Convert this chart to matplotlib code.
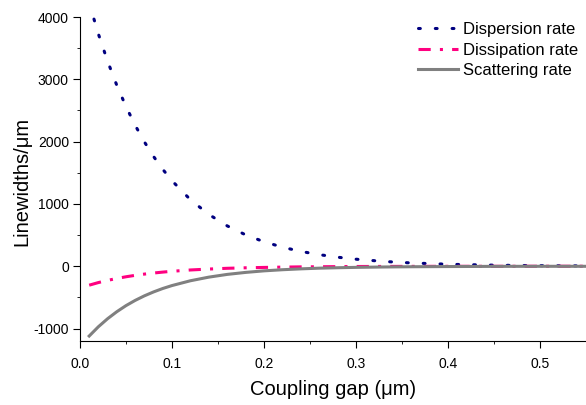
import matplotlib
matplotlib.use("Agg")
import matplotlib.pyplot as plt
from matplotlib.ticker import MultipleLocator

plt.rcParams['font.family'] = ['Liberation Sans', 'DejaVu Sans']
plt.rcParams['axes.unicode_minus'] = False

# coupling gap (um)
gap = [0.01, 0.02, 0.03, 0.04, 0.05, 0.06, 0.07, 0.08, 0.09, 0.10,
       0.12, 0.14, 0.16, 0.18, 0.20, 0.22, 0.24, 0.26, 0.28, 0.30,
       0.33, 0.36, 0.40, 0.45, 0.50, 0.55]
dispersion = [4225, 3728, 3291, 2904, 2563, 2262, 1996, 1761, 1555, 1372,
              1068, 832, 648, 504, 393, 306, 238, 186, 145, 113,
              77, 53, 32, 17, 9, 5]
dissipation = [-304, -262, -227, -196, -169, -146, -126, -109, -94, -81,
               -60, -45, -33, -25, -19, -14, -10, -8, -6, -4,
               -3, -2, -1, -1, 0, 0]
scattering = [-1120, -971, -842, -730, -632, -548, -475, -412, -357, -310,
              -233, -175, -131, -99, -74, -56, -42, -31, -24, -18,
              -12, -8, -5, -2, -1, -1]

fig = plt.figure(figsize=(5.86, 4.05), dpi=100)
ax = fig.add_axes([0.1365, 0.158, 0.8635, 0.8])

ax.plot(gap, dispersion, color='#000080', lw=2.2, linestyle=(0, (0.6, 4.9)),
        dash_capstyle='round', label='Dispersion rate')
ax.plot(gap, dissipation, color='#ff0080', lw=2.2, linestyle=(0, (4, 3, 1, 3)),
        label='Dissipation rate')
ax.plot(gap, scattering, color='#808080', lw=2.2, label='Scattering rate')

ax.set_xlim(0, 0.55)
ax.set_ylim(-1200, 4000)
ax.xaxis.set_major_locator(MultipleLocator(0.1))
ax.xaxis.set_minor_locator(MultipleLocator(0.05))
ax.yaxis.set_major_locator(MultipleLocator(1000))
ax.yaxis.set_minor_locator(MultipleLocator(500))
ax.xaxis.set_major_formatter(plt.FormatStrFormatter('%.1f'))

ax.spines['top'].set_visible(False)
ax.spines['right'].set_visible(False)
ax.tick_params(which='both', direction='out', labelsize=10)
ax.tick_params(which='major', length=5)
ax.tick_params(which='minor', length=2.5)
ax.tick_params(axis='x', which='major', pad=6.5)
ax.tick_params(axis='y', which='major', pad=3)

ax.set_xlabel('Coupling gap (\u03bcm)', fontsize=14.5)
ax.set_ylabel('Linewidths/\u03bcm', fontsize=14.5)
ax.xaxis.set_label_coords(0.5, -0.12)
ax.yaxis.set_label_coords(-0.097, 0.494)

ax.legend(loc='upper left', bbox_to_anchor=(418 / 586, 1 - 22 / 405),
          bbox_transform=fig.transFigure, frameon=False, fontsize=12,
          handlelength=2.4, handletextpad=0.3, labelspacing=0.33,
          borderpad=0, borderaxespad=0)

fig.savefig('out.png', dpi=100)
